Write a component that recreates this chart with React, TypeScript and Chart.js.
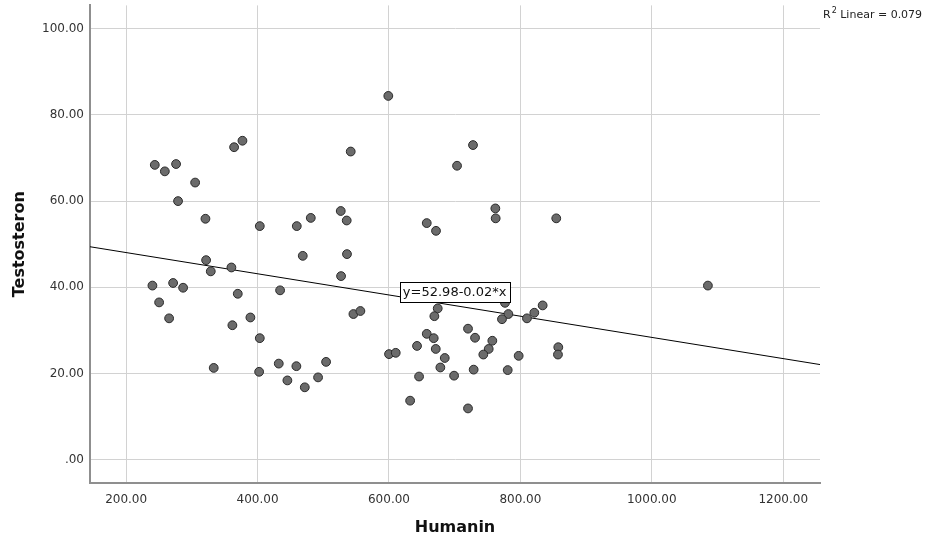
import React, { useEffect, useRef } from "react";
import { Chart, registerables } from "chart.js";

Chart.register(...registerables);

const humanin: number[] = [
  599, 243.6, 258.9, 276, 305, 279, 320.7, 364.3, 377, 403.4, 459.7, 481, 526.6, 535.7, 541.8,
  727.9, 703.6, 761.9, 762.4, 854.6, 657.5, 671.6,
  240, 250.2, 265.4, 271.5, 286.7, 321.7, 328.8, 360.2, 369.9, 361.7, 389.1, 403.4, 333.3, 402.4,
  434.3, 432.3, 445.4, 459.1, 471.9, 492.1, 504.3, 468.8, 536.1, 527.1, 545.9, 556.5, 600.1,
  610.3, 776.6, 781.7, 772, 810, 821.2, 833.9, 674.2, 669.1, 657.5, 668.1, 642.7, 671.2, 684.9,
  678.2, 645.8, 699.1, 632.2, 720.3, 731, 757.3, 751.8, 743.6, 728.9, 780.7, 797.4, 720.3,
  857.7, 857.2, 1085.4,
];
const testosteron: number[] = [
  84.4, 68.4, 66.9, 68.6, 64.3, 60.0, 55.9, 72.5, 74.0, 54.2, 54.2, 56.1, 57.7, 55.5, 71.5,
  73.0, 68.2, 58.3, 56.0, 56.0, 54.9, 53.1,
  40.4, 36.5, 32.8, 41.0, 39.9, 46.3, 43.7, 44.6, 38.5, 31.2, 33.0, 28.2, 21.3, 20.4,
  39.3, 22.3, 18.4, 21.7, 16.8, 19.1, 22.7, 47.3, 47.7, 42.6, 33.8, 34.5, 24.5,
  24.8, 36.4, 33.8, 32.6, 32.8, 34.1, 35.8, 35.1, 33.3, 29.2, 28.2, 26.4, 25.7, 23.6,
  21.4, 19.3, 19.5, 13.7, 30.4, 28.3, 27.6, 25.7, 24.4, 20.9, 20.8, 24.1, 11.9,
  26.1, 24.4, 40.4,
];

const fitLineX: number[] = [145, 1256];
const fitLineY: number[] = [49.41, 22.08];

const xTickValues: number[] = [200, 400, 600, 800, 1000, 1200];
const yTickValues: number[] = [0, 20, 40, 60, 80, 100];

const xRange: number[] = [145, 1256];
const yRange: number[] = [-5.4, 105.4];

const equationText = "y=52.98-0.02*x";
const equationAt: number[] = [700, 38.9];
const r2Text = " Linear = 0.079";
const xTitle = "Humanin";
const yTitle = "Testosteron";

const FONT = "'DejaVu Sans', sans-serif";

const fmt = (v: number) => (v === 0 ? ".00" : v.toFixed(2));

const overlayPlugin = {
  id: "overlay",
  afterDraw(chart: any) {
    const ctx = chart.ctx as CanvasRenderingContext2D;
    const area = chart.chartArea;
    const xs = chart.scales.x;
    const ys = chart.scales.y;
    ctx.save();
    // equation box
    const px = xs.getPixelForValue(equationAt[0]);
    const py = ys.getPixelForValue(equationAt[1]);
    ctx.font = `13px ${FONT}`;
    const w = ctx.measureText(equationText).width + 6;
    const h = 20;
    ctx.fillStyle = "#ffffff";
    ctx.fillRect(Math.round(px - w / 2) + 0.5, Math.round(py - h / 2) + 0.5, Math.round(w), h);
    ctx.strokeStyle = "#000000";
    ctx.lineWidth = 1;
    ctx.strokeRect(Math.round(px - w / 2) + 0.5, Math.round(py - h / 2) + 0.5, Math.round(w), h);
    ctx.fillStyle = "#111111";
    ctx.textAlign = "center";
    ctx.textBaseline = "middle";
    ctx.fillText(equationText, px, py + 1);

    // R2 label
    ctx.textAlign = "left";
    ctx.textBaseline = "alphabetic";
    ctx.fillStyle = "#222222";
    ctx.font = `11px ${FONT}`;
    let tx = area.right + 3;
    const ty = 18;
    ctx.fillText("R", tx, ty);
    tx += ctx.measureText("R").width + 1;
    ctx.font = `8px ${FONT}`;
    ctx.fillText("2", tx, ty - 5);
    tx += ctx.measureText("2").width;
    ctx.font = `11px ${FONT}`;
    ctx.fillText(r2Text, tx, ty);

    // axis titles
    ctx.fillStyle = "#111111";
    ctx.font = `bold 16px ${FONT}`;
    ctx.textAlign = "center";
    ctx.textBaseline = "alphabetic";
    ctx.fillText(xTitle, (area.left + area.right) / 2, 532);
    ctx.save();
    ctx.translate(24, (area.top + area.bottom) / 2);
    ctx.rotate(-Math.PI / 2);
    ctx.fillText(yTitle, 0, 0);
    ctx.restore();
    ctx.restore();
  },
};

export default function App() {
  const ref = useRef<HTMLCanvasElement | null>(null);
  useEffect(() => {
    document.body.style.margin = "0";
    if (!ref.current) return;
    const chart = new Chart(ref.current, {
      type: "scatter",
      data: {
        datasets: [
          {
            type: "line",
            label: "fit",
            data: fitLineX.map((x, i) => ({ x, y: fitLineY[i] })),
            borderColor: "#000000",
            borderWidth: 1,
            pointRadius: 0,
            fill: false,
            order: 2,
          } as any,
          {
            label: "points",
            data: humanin.map((x, i) => ({ x, y: testosteron[i] })),
            backgroundColor: "#6b6b6b",
            borderColor: "#2a2a2a",
            borderWidth: 1,
            pointRadius: 4.4,
            order: 1,
          },
        ],
      },
      options: {
        animation: false,
        responsive: false,
        maintainAspectRatio: false,
        layout: { padding: { top: 4, right: 111, left: 0, bottom: 0 } },
        plugins: { legend: { display: false }, tooltip: { enabled: false } },
        scales: {
          x: {
            type: "linear",
            min: xRange[0],
            max: xRange[1],
            afterBuildTicks: (s: any) => {
              s.ticks = xTickValues.map((v) => ({ value: v }));
            },
            afterFit: (s: any) => {
              s.height = 60;
              s.paddingLeft = 0;
              s.paddingRight = 0;
            },
            grid: { color: "#d2d2d2", lineWidth: 1, drawTicks: false },
            border: { display: true, color: "#8f8f8f", width: 2 },
            ticks: {
              padding: 10,
              color: "#333333",
              font: { family: FONT, size: 12 },
              callback: (v: any) => fmt(Number(v)),
              maxRotation: 0,
            },
          },
          y: {
            type: "linear",
            min: yRange[0],
            max: yRange[1],
            afterBuildTicks: (s: any) => {
              s.ticks = yTickValues.map((v) => ({ value: v }));
            },
            afterFit: (s: any) => {
              s.width = 90;
              s.paddingTop = 0;
              s.paddingBottom = 0;
            },
            grid: { color: "#d2d2d2", lineWidth: 1, drawTicks: false },
            border: { display: true, color: "#8f8f8f", width: 2 },
            ticks: {
              padding: 6,
              color: "#333333",
              font: { family: FONT, size: 12 },
              callback: (v: any) => fmt(Number(v)),
            },
          },
        },
      },
      plugins: [overlayPlugin],
    });
    return () => chart.destroy();
  }, []);
  return (
    <div style={{ width: 931, height: 543, position: "relative" }}>
      <canvas ref={ref} width={931} height={543} style={{ display: "block", width: 931, height: 543 }} />
    </div>
  );
}
